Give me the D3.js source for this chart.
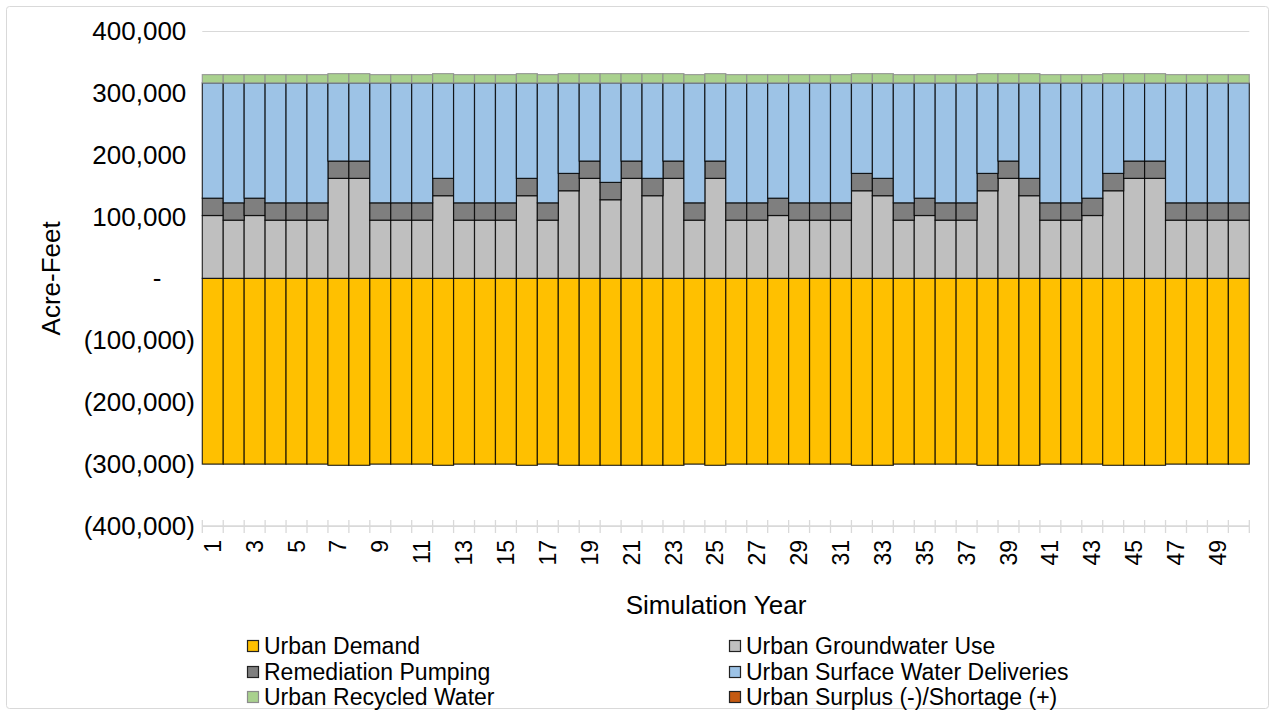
<!DOCTYPE html>
<html>
<head>
<meta charset="utf-8">
<script src="https://cdn.jsdelivr.net/npm/d3@7"></script>
<style>
  body { margin: 0; background: #fff; }
  svg { display: block; }
  text { font-family: Arial, "Liberation Sans", sans-serif; fill: #000; }
</style>
</head>
<body>
<svg id="chart" width="1275" height="715"></svg>
<script>
// Simulation years (categories)
const years = [
   1,  2,  3,  4,  5,  6,  7,  8,  9, 10,
  11, 12, 13, 14, 15, 16, 17, 18, 19, 20,
  21, 22, 23, 24, 25, 26, 27, 28, 29, 30,
  31, 32, 33, 34, 35, 36, 37, 38, 39, 40,
  41, 42, 43, 44, 45, 46, 47, 48, 49, 50
];

// Acre-feet per year, by component
const urbanDemand = [
  -300000, -300000, -300000, -300000, -300000, -300000, -302000, -302000, -300000, -300000,
  -300000, -302000, -300000, -300000, -300000, -302000, -300000, -302000, -302000, -302000,
  -302000, -302000, -302000, -300000, -302000, -300000, -300000, -300000, -300000, -300000,
  -300000, -302000, -302000, -300000, -300000, -300000, -300000, -302000, -302000, -302000,
  -300000, -300000, -300000, -302000, -302000, -302000, -300000, -300000, -300000, -300000
];
const urbanGroundwater = [
  101500,  94000, 101500,  94000,  94000,  94000, 161500, 161500,  94000,  94000,
   94000, 133500,  94000,  94000,  94000, 133500,  94000, 141500, 161500, 127000,
  161500, 133500, 161500,  94000, 161500,  94000,  94000, 101500,  94000,  94000,
   94000, 141500, 133500,  94000, 101500,  94000,  94000, 141500, 161500, 133500,
   94000,  94000, 101500, 141500, 161500, 161500,  94000,  94000,  94000,  94000
];
const remediationPumping = [
  28000, 28000, 28000, 28000, 28000, 28000, 28000, 28000, 28000, 28000,
  28000, 28000, 28000, 28000, 28000, 28000, 28000, 28000, 28000, 28000,
  28000, 28000, 28000, 28000, 28000, 28000, 28000, 28000, 28000, 28000,
  28000, 28000, 28000, 28000, 28000, 28000, 28000, 28000, 28000, 28000,
  28000, 28000, 28000, 28000, 28000, 28000, 28000, 28000, 28000, 28000
];
const urbanSurfaceWater = [
  186200, 193700, 186200, 193700, 193700, 193700, 126200, 126200, 193700, 193700,
  193700, 154200, 193700, 193700, 193700, 154200, 193700, 146200, 126200, 160700,
  126200, 154200, 126200, 193700, 126200, 193700, 193700, 186200, 193700, 193700,
  193700, 146200, 154200, 193700, 186200, 193700, 193700, 146200, 126200, 154200,
  193700, 193700, 186200, 146200, 126200, 126200, 193700, 193700, 193700, 193700
];
const urbanRecycled = [
  13400, 13400, 13400, 13400, 13400, 13400, 15000, 15000, 13400, 13400,
  13400, 15000, 13400, 13400, 13400, 15000, 13400, 15000, 15000, 15000,
  15000, 15000, 15000, 13400, 15000, 13400, 13400, 13400, 13400, 13400,
  13400, 15000, 15000, 13400, 13400, 13400, 13400, 15000, 15000, 15000,
  13400, 13400, 13400, 15000, 15000, 15000, 13400, 13400, 13400, 13400
];
const urbanSurplusShortage = [
  0, 0, 0, 0, 0, 0, 0, 0, 0, 0,
  0, 0, 0, 0, 0, 0, 0, 0, 0, 0,
  0, 0, 0, 0, 0, 0, 0, 0, 0, 0,
  0, 0, 0, 0, 0, 0, 0, 0, 0, 0,
  0, 0, 0, 0, 0, 0, 0, 0, 0, 0
];

const yTicks = [400000, 300000, 200000, 100000, 0, -100000, -200000, -300000, -400000];
const xTickLabels = [1, 3, 5, 7, 9, 11, 13, 15, 17, 19, 21, 23, 25, 27, 29, 31, 33, 35, 37, 39, 41, 43, 45, 47, 49];

const seriesInfo = [
  { key: "demand",    name: "Urban Demand",                    values: urbanDemand,          fill: "#FFC000", stroke: "#000" },
  { key: "gw",        name: "Urban Groundwater Use",           values: urbanGroundwater,     fill: "#BFBFBF", stroke: "#000" },
  { key: "rem",       name: "Remediation Pumping",             values: remediationPumping,   fill: "#7F7F7F", stroke: "#000" },
  { key: "surface",   name: "Urban Surface Water Deliveries",  values: urbanSurfaceWater,    fill: "#9DC3E6", stroke: "#000" },
  { key: "recycled",  name: "Urban Recycled Water",            values: urbanRecycled,        fill: "#A9D18E", stroke: "#8c8c8c" },
  { key: "surplus",   name: "Urban Surplus (-)/Shortage (+)",  values: urbanSurplusShortage, fill: "#C55A11", stroke: "#000" }
];

const table = years.map((yr, i) => {
  const row = { year: yr };
  seriesInfo.forEach(s => { row[s.key] = s.values[i]; });
  return row;
});

const svg = d3.select("#chart");

// outer chart frame
svg.append("rect")
  .attr("x", 6.5).attr("y", 6.5).attr("width", 1262).attr("height", 702)
  .attr("rx", 3).attr("fill", "#fff").attr("stroke", "#d9d9d9").attr("stroke-width", 1);

const plot = { left: 202.3, right: 1249.3, top: 30.7, bottom: 526 };

const x = d3.scaleBand().domain(years).range([plot.left, plot.right]).padding(0);
const y = d3.scaleLinear().domain([-400000, 400000]).range([plot.bottom, plot.top]);

// horizontal gridlines
svg.append("g").selectAll("line").data(yTicks).join("line")
  .attr("x1", plot.left).attr("x2", plot.right)
  .attr("y1", d => Math.round(y(d)) + 0.5).attr("y2", d => Math.round(y(d)) + 0.5)
  .attr("stroke", "#d9d9d9").attr("stroke-width", 1);

// stacked bars
const stack = d3.stack().keys(seriesInfo.map(s => s.key)).offset(d3.stackOffsetDiverging);
const layers = stack(table);

svg.append("g").selectAll("g").data(layers).join("g")
  .attr("fill", (d, i) => seriesInfo[i].fill)
  .attr("stroke", (d, i) => seriesInfo[i].stroke)
  .attr("stroke-opacity", 0.8)
  .attr("stroke-width", 1.2)
  .selectAll("rect")
  .data(d => d.filter(p => p[1] !== p[0]))
  .join("rect")
  .attr("x", d => x(d.data.year))
  .attr("width", x.bandwidth())
  .attr("y", d => y(Math.max(d[0], d[1])))
  .attr("height", d => Math.abs(y(d[0]) - y(d[1])));

// category axis line and tick marks at band edges
const axisG = svg.append("g");
axisG.append("line")
  .attr("x1", plot.left).attr("x2", plot.right)
  .attr("y1", y(-400000)).attr("y2", y(-400000))
  .attr("stroke", "#d9d9d9").attr("stroke-width", 1.3);
const edges = years.map(v => x(v)).concat([x(years[years.length - 1]) + x.bandwidth()]);
axisG.selectAll("line.tick").data(edges).join("line")
  .attr("class", "tick")
  .attr("x1", d => d).attr("x2", d => d)
  .attr("y1", y(-400000) - 6).attr("y2", y(-400000) + 7)
  .attr("stroke", "#d9d9d9").attr("stroke-width", 1.3);

// category labels, rotated
const xAxis = d3.axisBottom(x).tickValues(xTickLabels).tickSize(0).tickPadding(0);
const xg = svg.append("g").attr("transform", `translate(0, ${y(-400000) + 14})`).call(xAxis);
xg.select(".domain").remove();
xg.selectAll("text")
  .attr("font-size", 23)
  .attr("font-family", "Arial, 'Liberation Sans', sans-serif")
  .attr("fill", "#000")
  .attr("transform", "rotate(-90)")
  .attr("text-anchor", "end")
  .attr("x", 0).attr("y", 0)
  .attr("dy", "0.35em");

// value axis labels in accounting style
const fs = 26;
const parenW = 0.333 * fs, digitW = 0.556 * fs;
const labelRight = 195;
const fmt = d3.format(",");
const yLabels = svg.append("g");
yLabels.selectAll("text").data(yTicks).join("text")
  .attr("font-size", fs)
  .attr("text-anchor", "end")
  .attr("dy", "0.35em")
  .attr("y", d => y(d))
  .attr("x", d => d < 0 ? labelRight : (d === 0 ? labelRight - parenW - 2 * digitW + 4 : labelRight - parenW))
  .text(d => d < 0 ? `(${fmt(-d)})` : (d === 0 ? "-" : fmt(d)));

// axis titles
svg.append("text")
  .attr("font-size", 26)
  .attr("text-anchor", "middle")
  .attr("transform", `translate(60, ${y(0)}) rotate(-90)`)
  .text("Acre-Feet");
svg.append("text")
  .attr("font-size", 26)
  .attr("text-anchor", "middle")
  .attr("x", 716)
  .attr("y", 614)
  .text("Simulation Year");

// legend
const legendPos = [
  { x: 247, y: 646 }, { x: 729, y: 646 },
  { x: 247, y: 672 }, { x: 729, y: 672 },
  { x: 247, y: 697 }, { x: 729, y: 697 }
];
const lg = svg.append("g").selectAll("g").data(seriesInfo).join("g")
  .attr("transform", (d, i) => `translate(${legendPos[i].x}, ${legendPos[i].y})`);
lg.append("rect")
  .attr("x", 0.5).attr("y", -5.5).attr("width", 11).attr("height", 11)
  .attr("fill", d => d.fill)
  .attr("stroke", d => d.key === "recycled" ? "#8c8c8c" : "#222")
  .attr("stroke-width", 1.2);
lg.append("text")
  .attr("x", 17).attr("dy", "0.35em")
  .attr("font-size", 23)
  .text(d => d.name);
</script>
</body>
</html>
